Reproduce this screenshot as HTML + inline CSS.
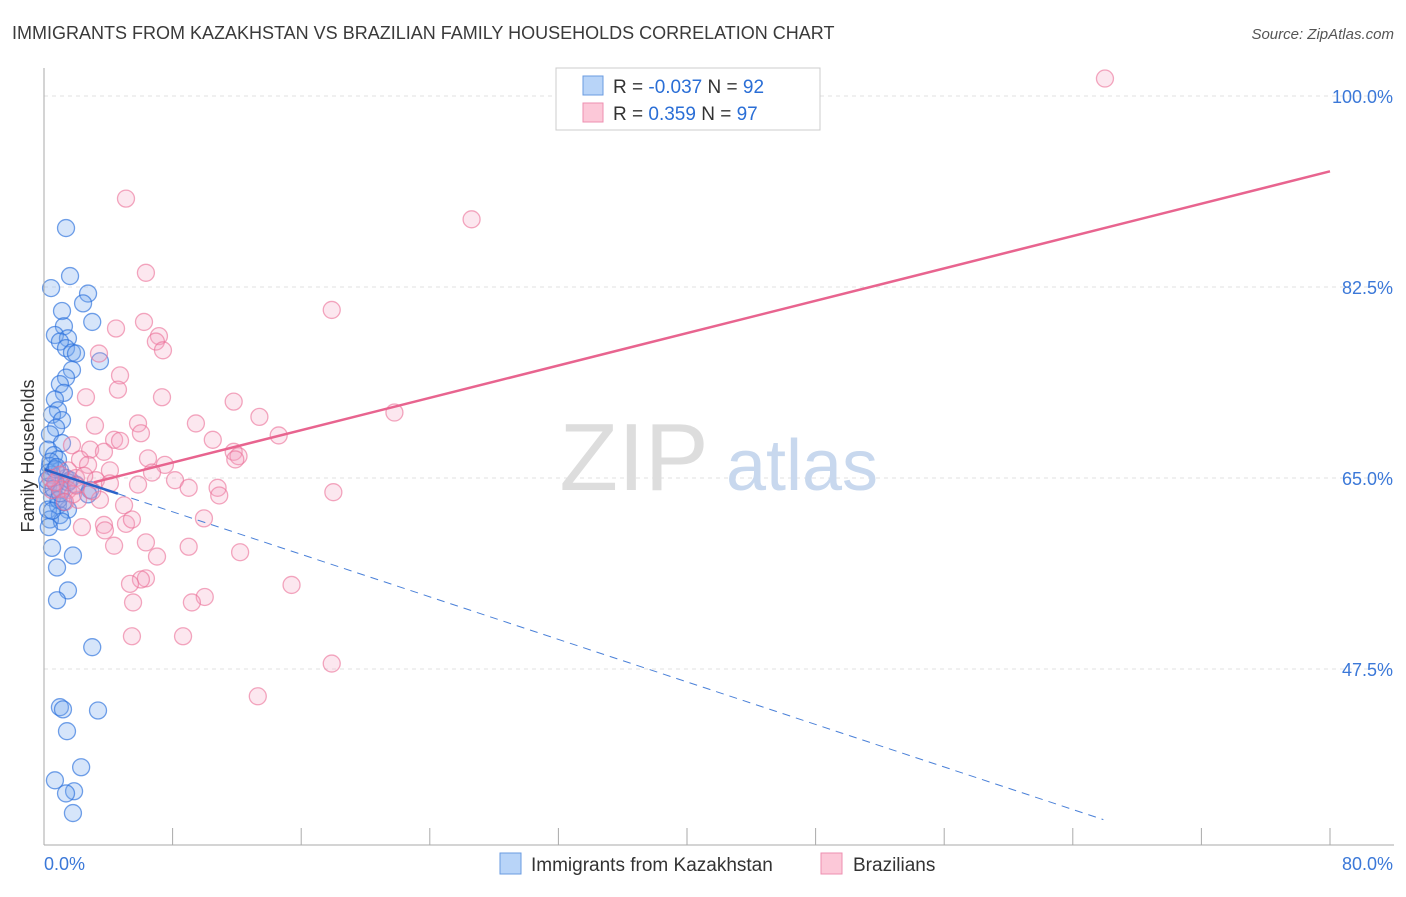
<!DOCTYPE html>
<html><head><meta charset="utf-8"><style>
body{margin:0;background:#fff;font-family:"Liberation Sans",sans-serif;}
svg text{font-family:"Liberation Sans",sans-serif;}
</style></head><body>
<svg id="chart" width="1406" height="892" xmlns="http://www.w3.org/2000/svg">
<text x="12" y="39" font-size="18" fill="#3a3a3a">IMMIGRANTS FROM KAZAKHSTAN VS BRAZILIAN FAMILY HOUSEHOLDS CORRELATION CHART</text>
<text x="1394" y="39" font-size="15" fill="#555" text-anchor="end" font-style="italic">Source: ZipAtlas.com</text>
<g id="grid"></g>
<g><text x="634" y="490" font-size="96" fill="#ddd" font-family="Liberation Serif" text-anchor="middle">ZIP</text><text x="802" y="490" font-size="72" fill="#c8d8ee" text-anchor="middle">atlas</text></g>
<g id="pts-blue"></g>
<g id="pts-pink"></g>
<g id="lines"></g>
<g id="axes"></g>
<text transform="translate(34,456) rotate(-90)" font-size="18" fill="#333" text-anchor="middle">Family Households</text>
<g>
<rect x="556" y="68" width="264" height="62" fill="#fff" stroke="#ccc"/>
<rect x="583" y="76" width="20" height="19" fill="#b8d4f8" stroke="#6a9be0"/>
<rect x="583" y="103" width="20" height="19" fill="#fcc8d8" stroke="#ee8fb0"/>
<text x="613" y="93" font-size="19" fill="#333">R = <tspan fill="#2a6ed6">-0.037</tspan>   N = <tspan fill="#2a6ed6">92</tspan></text>
<text x="613" y="120" font-size="19" fill="#333">R =   <tspan fill="#2a6ed6">0.359</tspan>   N = <tspan fill="#2a6ed6">97</tspan></text>
</g>
<g>
<rect x="500" y="853" width="21" height="21" fill="#b8d4f8" stroke="#6a9be0"/>
<text x="531" y="871" font-size="19" fill="#333">Immigrants from Kazakhstan</text>
<rect x="821" y="853" width="21" height="21" fill="#fcc8d8" stroke="#ee8fb0"/>
<text x="853" y="871" font-size="19" fill="#333">Brazilians</text>
</g>
</svg>
<script>
const xTicks=[0,80];
const yTicks=[47.5,65,82.5,100];
const blueX=[1.37,1.62,0.44,2.74,1.12,2.43,3.0,1.24,0.68,1.49,0.99,1.37,1.74,1.99,3.48,1.74,1.37,0.99,1.24,0.68,0.87,0.5,1.12,0.75,0.37,1.12,0.25,0.62,0.87,0.37,0.99,0.5,1.37,0.75,0.25,1.12,1.62,1.99,2.87,2.74,0.5,0.87,0.25,1.49,0.99,0.37,1.12,0.5,1.8,0.81,1.49,0.81,3.0,0.99,1.18,3.36,1.43,2.31,0.68,1.87,1.37,1.8,0.3,0.6,0.9,0.4,1.2,0.2,0.7,1.0,0.5,0.3,0.8,1.5];
const blueY=[87.9,83.5,82.4,81.9,80.3,81.0,79.3,78.9,78.1,77.8,77.5,76.9,76.5,76.4,75.7,74.9,74.2,73.6,72.8,72.2,71.2,70.8,70.3,69.6,69.0,68.2,67.6,67.1,66.7,66.1,65.7,65.3,65.0,64.5,64.2,63.9,64.8,64.4,63.9,63.5,63.2,62.5,62.1,62.1,61.6,61.2,61.0,58.6,57.9,56.8,54.7,53.8,49.5,44.0,43.8,43.7,41.8,38.5,37.3,36.3,36.1,34.3,65.5,64.0,63.0,66.5,62.8,64.8,65.8,63.6,62.0,60.5,66.0,64.6];
const pinkX=[66.0,5.1,26.6,6.34,17.9,6.22,4.48,7.15,6.96,7.4,3.42,4.73,4.6,7.34,2.61,11.8,21.8,13.4,9.45,3.17,5.85,6.03,14.6,4.36,10.5,4.73,1.74,2.87,3.73,11.8,12.1,6.47,2.24,11.9,7.52,2.74,4.1,6.72,8.15,1.49,0.99,1.99,3.23,4.1,9.0,5.85,10.8,10.9,3.48,4.98,18.0,1.49,0.5,2.12,9.95,5.1,2.36,3.73,5.47,3.79,6.34,9.0,4.36,12.2,7.03,6.34,6.03,5.35,15.4,10.0,5.54,9.2,5.47,8.65,17.9,13.3,1.0,1.8,2.5,0.7,1.3,2.0,3.0,0.4];
const pinkY=[101.6,90.6,88.7,83.8,80.4,79.3,78.7,78.0,77.5,76.7,76.4,74.4,73.1,72.4,72.4,72.0,71.0,70.6,70.0,69.8,70.0,69.1,68.9,68.5,68.5,68.4,68.0,67.6,67.4,67.4,67.0,66.8,66.7,66.7,66.2,66.2,65.7,65.5,64.8,65.7,65.3,65.0,64.8,64.5,64.1,64.4,64.1,63.4,63.0,62.5,63.7,63.9,63.9,63.0,61.3,60.8,60.5,60.7,61.2,60.2,59.1,58.7,58.8,58.2,57.8,55.8,55.7,55.3,55.2,54.1,53.6,53.6,50.5,50.5,48.0,45.0,64.0,63.5,65.2,64.6,62.8,64.3,63.8,65.0];
const blueTrend=[0,65.8,65.9,33.7];
const pinkTrend=[3.1,64.6,80,93.1];
const NS='http://www.w3.org/2000/svg';
const X=v=>44+v/80*1286, Y=v=>96+(100-v)/17.5*191;
function mk(t,a,p){const e=document.createElementNS(NS,t);for(const k in a)e.setAttribute(k,a[k]);p.appendChild(e);return e;}
const grid=document.getElementById('grid'),axes=document.getElementById('axes');
yTicks.forEach(t=>{
 const l=mk('line',{x1:44,x2:1394,y1:Y(t),y2:Y(t),stroke:'#e2e2e2','stroke-dasharray':'4,4'},grid);
 
 const tx=mk('text',{x:1393,y:Y(t)+7,'font-size':18,fill:'#3b78d8','text-anchor':'end'},axes);
 tx.textContent=t.toFixed(1)+'%';
 
});
mk('line',{x1:44,x2:44,y1:68,y2:845,stroke:'#aaa'},axes);
mk('line',{x1:44,x2:1394,y1:845,y2:845,stroke:'#aaa'},axes);
for(let i=0;i<=10;i++){const x=44+i*128.6;mk('line',{x1:x,x2:x,y1:828,y2:845,stroke:'#aaa'},axes);}
xTicks.forEach((t,i)=>{
 const tx=mk('text',{x:i?1393:44,y:870,'font-size':18,fill:'#3b78d8','text-anchor':i?'end':'start'},axes);
 tx.textContent=t.toFixed(1)+'%';
 
});
const gb=document.getElementById('pts-blue'),gp=document.getElementById('pts-pink');
blueX.forEach((v,i)=>{const c=mk('circle',{cx:X(v),cy:Y(blueY[i]),r:8.5,fill:'rgba(120,170,240,0.3)',stroke:'rgba(40,110,220,0.65)','stroke-width':1.3},gb);
 });
pinkX.forEach((v,i)=>{const c=mk('circle',{cx:X(v),cy:Y(pinkY[i]),r:8.5,fill:'rgba(245,160,190,0.25)',stroke:'rgba(235,110,150,0.6)','stroke-width':1.3},gp);
 });
const gl=document.getElementById('lines');
const bs=blueTrend, slope=(bs[3]-bs[1])/(bs[2]-bs[0]), xs=4.6;
let l=mk('line',{x1:X(bs[0]),y1:Y(bs[1]),x2:X(xs),y2:Y(bs[1]+slope*xs),stroke:'#2a62c8','stroke-width':2.5},gl);

l=mk('line',{x1:X(xs),y1:Y(bs[1]+slope*xs),x2:X(bs[2]),y2:Y(bs[3]),stroke:'#4a80d8','stroke-width':1,'stroke-dasharray':'8,6'},gl);

l=mk('line',{x1:X(pinkTrend[0]),y1:Y(pinkTrend[1]),x2:X(pinkTrend[2]),y2:Y(pinkTrend[3]),stroke:'#e8648f','stroke-width':2.5},gl);

</script>
</body></html>
